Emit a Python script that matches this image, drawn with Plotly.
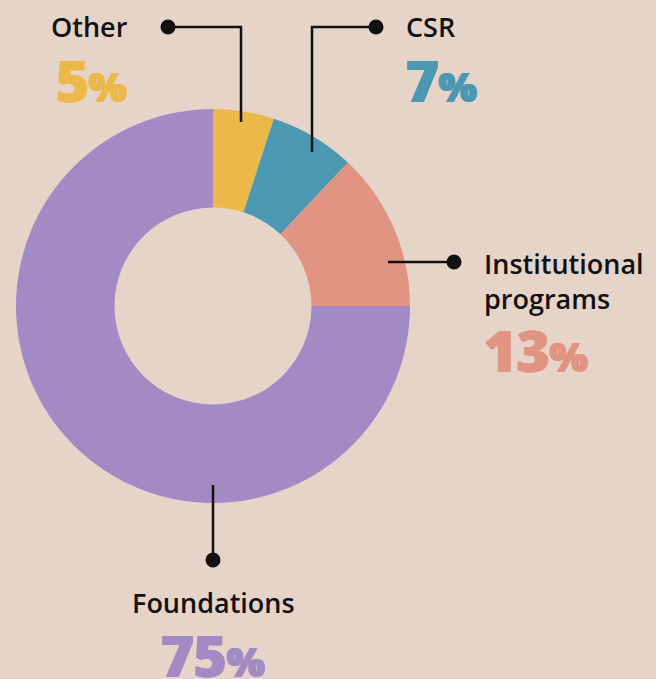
import plotly.graph_objects as go

categories = ["Other", "CSR", "Institutional programs", "Foundations"]
values = [5, 7, 13, 75]
colors = ["#ECB84A", "#4B98B3", "#E19482", "#A28AC4"]

W, H = 656, 679
BG = "#E7D4C8"
cx, cy, R = 213, 306, 197

fig = go.Figure()
fig.add_trace(go.Pie(
    labels=categories, values=values, hole=0.5, sort=False, direction="clockwise",
    rotation=0, marker=dict(colors=colors, line=dict(width=0)),
    textinfo="none", hoverinfo="label+percent", showlegend=False,
    domain=dict(x=[(cx - R) / W, (cx + R) / W], y=[(H - cy - R) / H, (H - cy + R) / H]),
))

LINE = dict(color="#111111", width=2.5)
shapes = []
def path(pts):
    d = "M " + " L ".join(f"{x},{y}" for x, y in pts)
    shapes.append(dict(type="path", path=d, xref="x", yref="y", line=LINE))
def dot(x, y, r=7.5):
    shapes.append(dict(type="circle", xref="x", yref="y", x0=x - r, x1=x + r, y0=y - r, y1=y + r,
                       fillcolor="#111111", line=dict(width=0)))

path([(168, 27), (241, 27), (241, 122)]); dot(168, 27)
path([(376, 27), (312, 27), (312, 152)]); dot(376, 27)
path([(388, 262), (454, 262)]); dot(454, 262)
path([(213, 485), (213, 560)]); dot(213, 560)

LBL = dict(family="Open Sans", size=27, color="#111111", weight=600)
def pct_text(v):
    return f"{v}<span style='font-size:40px'>%</span>"

def ann(x, y, text, font, xanchor="left"):
    fig.add_annotation(x=x, y=y, xref="x", yref="y", text=text, showarrow=False,
                       xanchor=xanchor, yanchor="middle", font=font,
                       align=xanchor if xanchor != "center" else "center")

def PF(c):
    return dict(family="Open Sans", size=56, color=c, weight=800,
                shadow=f"1px 0 0 {c}, -1px 0 0 {c}")

ann(49, 26, categories[0], LBL)
ann(54, 80, pct_text(values[0]), PF(colors[0]))
ann(404, 26, categories[1], LBL)
ann(404, 80, pct_text(values[1]), PF(colors[1]))
ann(482, 281, "Institutional<br>programs", LBL)
ann(482, 350, pct_text(values[2]), PF(colors[2]))
ann(213, 602, categories[3], LBL, xanchor="center")
ann(213, 655, pct_text(values[3]), PF(colors[3]), xanchor="center")

fig.update_layout(
    width=W, height=H, paper_bgcolor=BG, plot_bgcolor=BG,
    margin=dict(l=0, r=0, t=0, b=0), shapes=shapes,
    xaxis=dict(range=[0, W], visible=False, fixedrange=True),
    yaxis=dict(range=[H, 0], visible=False, fixedrange=True),
)
fig.write_html("out.html", config={"displayModeBar": False},
               post_script="document.body.style.margin='0';")
